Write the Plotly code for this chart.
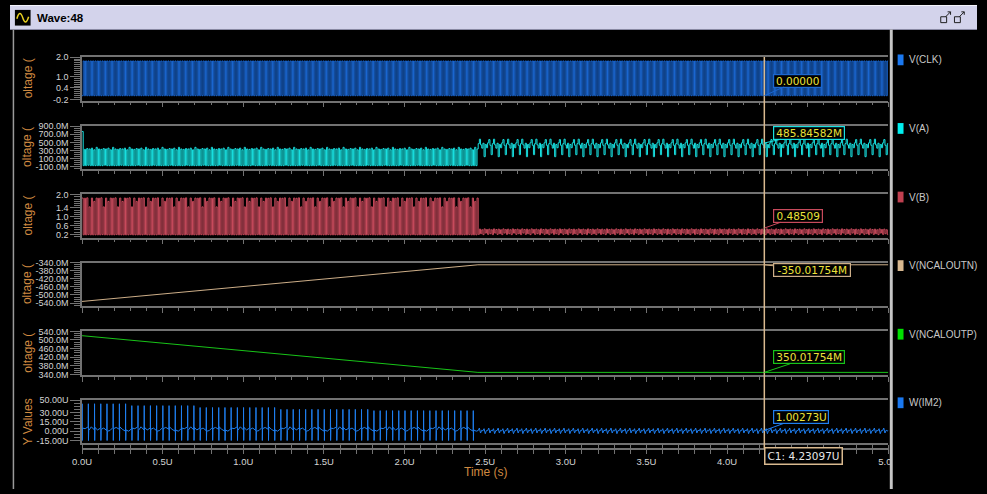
import numpy as np
import plotly.graph_objects as go

W, H = 987, 494

# ---------------- timing (microseconds) ----------------
T_END = 5.0
T_CAL_DONE = 2.455          # end of the calibration phase
CURSOR_T = 4.23097
CLK_HALF = 0.00729          # half clock period
IM2_SPIKE_PERIOD = 0.0385

# ---------------- V(CLK) ----------------
CLK_LEVELS = [0.0, 1.8]

# ---------------- V(A) ----------------
A_START = 0.77
A_PRE_LEVELS = [0.34, -0.07, 0.33, -0.07, 0.35, -0.06, 0.34, -0.07,
                0.36, -0.07, 0.32, -0.07, 0.38, -0.07]
A_POST_LEVELS = [0.47, 0.58, 0.44, 0.36, 0.48, 0.15, 0.45, 0.37,
                 0.49, 0.57, 0.43, 0.20]

# ---------------- V(B) ----------------
B_PRE_LEVELS = [1.85, 0.18, 1.84, 0.18, 1.86, 0.19, 1.45, 0.18,
                1.85, 0.18, 1.70, 0.18]
B_POST_LEVELS = [0.20, 0.44, 0.23, 0.41, 0.19, 0.45, 0.26, 0.42]

# ---------------- V(NCALOUTN) / V(NCALOUTP) ----------------
NCAL_T = [0.0, T_CAL_DONE, T_END]
NCALOUTN = [-0.532, -0.350, -0.350]
NCALOUTP = [0.520, 0.350, 0.350]

# ---------------- W(IM2) in uA ----------------
IM2_SEG_START = [0.0, 0.3, 0.7, 1.2, 1.8]
IM2_SEG_PEAK = [44.0, 41.0, 38.0, 35.0, 33.0]
IM2_TROUGH = -15.0
IM2_PRE_BASE = [4.0, 7.0, 2.0, 5.0, 1.0, 6.0, 3.0, 0.0]
IM2_POST_LEVELS = [1.0, 5.0, -3.0, 1.5, 0.5, 4.0, -4.0, 1.0]

# ---------------- cursor readout ----------------
CURSOR_VALUES = [0.0, 0.48584582, 0.48509, -0.35001754, 0.35001754, 1.00273]
CURSOR_TEXT = ["0.00000", "485.84582M", "0.48509", "-350.01754M",
               "350.01754M", "1.00273U"]

# ---------------- axis labels ----------------
NAMES = ["V(CLK)", "V(A)", "V(B)", "V(NCALOUTN)", "V(NCALOUTP)", "W(IM2)"]
Y_TITLES = ["oltage (", "oltage (", "oltage (", "oltage (", "oltage (", "Y Values"]
Y_TICKVALS = [
    [2.0, 1.0, 0.4, -0.2],
    [0.9, 0.7, 0.5, 0.3, 0.1, -0.1],
    [2.0, 1.4, 1.0, 0.6, 0.2],
    [-0.34, -0.38, -0.42, -0.46, -0.50, -0.54],
    [0.54, 0.50, 0.46, 0.42, 0.38, 0.34],
    [50, 30, 15, 0, -15],
]
Y_TICKTEXT = [
    ["2.0", "1.0", "0.4", "-0.2"],
    ["900.0M", "700.0M", "500.0M", "300.0M", "100.0M", "-100.0M"],
    ["2.0", "1.4", "1.0", "0.6", "0.2"],
    ["-340.0M", "-380.0M", "-420.0M", "-460.0M", "-500.0M", "-540.0M"],
    ["540.0M", "500.0M", "460.0M", "420.0M", "380.0M", "340.0M"],
    ["50.00U", "30.00U", "15.00U", "0.00U", "-15.00U"],
]
X_TICKVALS = [0, 0.5, 1.0, 1.5, 2.0, 2.5, 3.0, 3.5, 4.0, 4.5, 5.0]
X_TICKTEXT = ["0.0U", "0.5U", "1.0U", "1.5U", "2.0U", "2.5U", "3.0U",
              "3.5U", "4.0U", "4.5U", "5.0U"]

# ---------------- styling ----------------
TRACE_COLORS = ["#1a66d0", "#18e0e0", "#c84a5c", "#cdae88", "#18c418", "#1f7ff0"]
SWATCH_COLORS = ["#1a78f0", "#00f0f0", "#c04050", "#d8b890", "#00e000", "#1a78f0"]
Y_RANGES = [[-0.25, 2.01], [-0.155, 0.916], [0.05, 2.03],
            [-0.556, -0.3395], [0.3385, 0.5405], [-19.7, 50.3]]
Y_MINOR = [0.1, 0.05, 0.1, 0.01, 0.01, 5.0]
PANEL_TOP = [53, 123, 193, 263, 333, 403]
PANEL_H = 44.5
X_LEFT, X_RIGHT = 73.5, 896.5
AXIS_GRAY = "#727272"
TICK_FONT = dict(family="Liberation Sans", size=9, color="#d4d4d4")
TITLE_ORANGE = "#d08a40"
CURSOR_TAN = "#d9b98f"
VALUE_YELLOW = "#ece23a"


def px(x):
    return x / W


def py(y):
    return 1 - y / H


# ---------------- waveforms ----------------
edges = np.arange(0.0, T_END, CLK_HALF)
k = np.arange(len(edges))
pre = edges < T_CAL_DONE
k_post = k - pre.sum()

clk_y = np.array(CLK_LEVELS)[k % len(CLK_LEVELS)]

a_y = np.where(pre,
               np.array(A_PRE_LEVELS)[k % len(A_PRE_LEVELS)],
               np.array(A_POST_LEVELS)[k_post % len(A_POST_LEVELS)])
a_y[0] = A_START

b_y = np.where(pre,
               np.array(B_PRE_LEVELS)[k % len(B_PRE_LEVELS)],
               np.array(B_POST_LEVELS)[k_post % len(B_POST_LEVELS)])


def hold_end(x, y):
    return np.append(x, T_END), np.append(y, y[-1])


clk_x, clk_y = hold_end(edges, clk_y)
a_x, a_y = hold_end(edges, a_y)
b_x, b_y = hold_end(edges, b_y)

# IM2: current spikes at every comparator strobe during calibration
im_x, im_y = [], []
spike_t = np.arange(0.0, T_CAL_DONE, IM2_SPIKE_PERIOD)
for n, t in enumerate(spike_t):
    t = float(t)
    seg = int(np.searchsorted(IM2_SEG_START, t, side="right")) - 1
    base = IM2_PRE_BASE[n % len(IM2_PRE_BASE)]
    base2 = IM2_PRE_BASE[(n + 3) % len(IM2_PRE_BASE)]
    im_x += [t, t + 0.0008, t + 0.0016, t + 0.003, t + IM2_SPIKE_PERIOD * 0.5]
    im_y += [base, IM2_SEG_PEAK[seg], IM2_TROUGH, base2, base]
post_edges = edges[~pre]
for n, t in enumerate(post_edges):
    im_x.append(float(t))
    im_y.append(IM2_POST_LEVELS[n % len(IM2_POST_LEVELS)])
im_x.append(T_END)
im_y.append(IM2_POST_LEVELS[0])

series = [
    (clk_x, clk_y, "hv"),
    (a_x, a_y, "hv"),
    (b_x, b_y, "hv"),
    (np.array(NCAL_T), np.array(NCALOUTN), "linear"),
    (np.array(NCAL_T), np.array(NCALOUTP), "linear"),
    (np.array(im_x), np.array(im_y), "linear"),
]

fig = go.Figure()
for i, (xs, ys, shape) in enumerate(series):
    fig.add_trace(go.Scatter(
        x=xs, y=ys, mode="lines", name=NAMES[i],
        line=dict(color=TRACE_COLORS[i], width=1, shape=shape),
        xaxis=f"x{i + 1}", yaxis=f"y{i + 1}", showlegend=False,
        hoverinfo="skip"))

# carrier for the shared time axis
fig.add_trace(go.Scatter(x=[None], y=[None], xaxis="x7", yaxis="y6",
                         showlegend=False, hoverinfo="skip"))

layout = dict(
    width=W, height=H, margin=dict(l=0, r=0, t=0, b=0),
    paper_bgcolor="black", plot_bgcolor="rgba(0,0,0,0)", showlegend=False,
)

for i in range(6):
    top = PANEL_TOP[i]
    bot = top + PANEL_H
    layout[f"xaxis{i + 1}"] = dict(
        domain=[px(X_LEFT), px(X_RIGHT)], range=[0, T_END],
        anchor=f"y{i + 1}", showline=True, mirror=True,
        linecolor=AXIS_GRAY, linewidth=1.5,
        ticks="outside", ticklen=5, tickcolor=AXIS_GRAY, tickwidth=1,
        tickmode="linear", tick0=0, dtick=0.5,
        minor=dict(ticks="outside", ticklen=3, tickcolor=AXIS_GRAY,
                   tickmode="linear", tick0=0, dtick=0.1, showgrid=False),
        showticklabels=False, showgrid=False, zeroline=False,
    )
    layout[f"yaxis{i + 1}"] = dict(
        domain=[py(bot), py(top)], range=Y_RANGES[i],
        anchor=f"x{i + 1}", showline=True, linecolor=AXIS_GRAY, linewidth=1.5,
        ticks="outside", ticklen=10, tickcolor=AXIS_GRAY, tickwidth=1,
        tickmode="array", tickvals=Y_TICKVALS[i], ticktext=Y_TICKTEXT[i],
        tickfont=TICK_FONT,
        minor=dict(ticks="outside", ticklen=6, tickcolor=AXIS_GRAY,
                   tickmode="linear", tick0=0, dtick=Y_MINOR[i],
                   showgrid=False),
        showgrid=False, zeroline=False,
    )

layout["xaxis7"] = dict(
    domain=[px(X_LEFT), px(X_RIGHT)], range=[0, T_END],
    anchor="free", position=py(453), showline=True,
    linecolor=AXIS_GRAY, linewidth=1.5,
    ticks="outside", ticklen=4, tickcolor=AXIS_GRAY,
    tickmode="array", tickvals=X_TICKVALS, ticktext=X_TICKTEXT,
    tickfont=dict(family="Liberation Sans", size=9.5, color="#d4d4d4"),
    minor=dict(ticks="outside", ticklen=4, tickcolor=AXIS_GRAY,
               tickmode="linear", tick0=0, dtick=0.1, showgrid=False),
    showgrid=False, zeroline=False,
)

fig.update_layout(**layout)

shapes = []
annotations = []


def paper_rect(x0, y0, x1, y1, fill, line=None, lw=0):
    shapes.append(dict(type="rect", xref="paper", yref="paper",
                       x0=px(x0), x1=px(x1), y0=py(y1), y1=py(y0),
                       fillcolor=fill, line=dict(color=line or fill, width=lw),
                       layer="above"))


def paper_line(x0, y0, x1, y1, color, width=1):
    shapes.append(dict(type="line", xref="paper", yref="paper",
                       x0=px(x0), x1=px(x1), y0=py(y0), y1=py(y1),
                       line=dict(color=color, width=width), layer="above"))


# window chrome
paper_rect(0, 0, W, 25, "#d3d3eb")
paper_line(0, 0.5, W, 0.5, "#f4f4fc", 1)
paper_line(0, 25, W, 25, "#8a8aa4", 1)
paper_rect(5, 5, 21, 21, "#000000")
shapes.append(dict(type="path", xref="paper", yref="paper",
                   path=(f"M {px(7)} {py(14)} Q {px(10)} {py(4)} {px(13)} {py(13)} "
                         f"T {px(19)} {py(12)}"),
                   line=dict(color="#e8d020", width=1.5), layer="above"))
annotations.append(dict(xref="paper", yref="paper", x=px(26), y=py(13),
                        xanchor="left", yanchor="middle", showarrow=False,
                        text="<b>Wave:48</b>",
                        font=dict(family="Liberation Sans", size=11.5,
                                  color="#000000")))
for bx in (950, 964):
    paper_rect(bx, 12, bx + 6, 18, "rgba(0,0,0,0)", "#202020", 1)
    paper_line(bx + 7, 7, bx + 10, 7, "#202020", 1)
    paper_line(bx + 10, 7, bx + 10, 10, "#202020", 1)
    paper_line(bx + 10, 7, bx + 5, 12, "#202020", 1)

paper_line(3.5, 25, 3.5, H, "#9a9a9a", 1.5)
# clip the last time label at the divider
paper_rect(899, 456, 912, 476, "#000000")
paper_rect(898, 25, 901, H, "#c6c6c6")

# legend swatches and names
for i in range(6):
    cy = PANEL_TOP[i] + 3
    paper_rect(906, cy - 5.5, 912, cy + 5.5, SWATCH_COLORS[i])
    annotations.append(dict(xref="paper", yref="paper", x=px(916), y=py(cy),
                            xanchor="left", yanchor="middle", showarrow=False,
                            text=NAMES[i],
                            font=dict(family="Liberation Sans", size=10,
                                      color="#c8c8c8")))

# axis titles
for i in range(6):
    cy = PANEL_TOP[i] + PANEL_H / 2
    annotations.append(dict(xref="paper", yref="paper", x=px(18), y=py(cy),
                            xanchor="center", yanchor="middle", showarrow=False,
                            textangle=-90, text=Y_TITLES[i],
                            font=dict(family="Liberation Sans", size=12,
                                      color=TITLE_ORANGE)))
annotations.append(dict(xref="paper", yref="paper", x=px(486), y=py(477),
                        xanchor="center", yanchor="middle", showarrow=False,
                        text="Time (s)",
                        font=dict(family="Liberation Sans", size=12,
                                  color=TITLE_ORANGE)))

# cursor
shapes.append(dict(type="line", xref="x", yref="paper", x0=CURSOR_T,
                   x1=CURSOR_T, y0=py(453), y1=py(53),
                   line=dict(color=CURSOR_TAN, width=1.5), layer="above"))
annotations.append(dict(xref="x", yref="paper", x=CURSOR_T, y=py(460.5),
                        xanchor="left", yanchor="middle", showarrow=False,
                        text=f"C1: {CURSOR_T:.5f}U", bgcolor="#000000",
                        bordercolor=CURSOR_TAN, borderwidth=1.5, borderpad=1,
                        width=74, height=13,
                        font=dict(family="DejaVu Sans", size=10.5,
                                  color="#e6e6e6")))

# cursor readouts
BOXES = [(803.5, 77.5, 47), (815, 130.7, 70), (804, 215.5, 48),
         (818, 270.3, 76), (815, 360, 70), (807, 420.7, 54)]
x_cur_px = X_LEFT + CURSOR_T / T_END * (X_RIGHT - X_LEFT)
for i in range(6):
    lo, hi = Y_RANGES[i]
    top = PANEL_TOP[i]
    y_pt = top + (hi - CURSOR_VALUES[i]) / (hi - lo) * PANEL_H
    bx, by, bw = BOXES[i]
    annotations.append(dict(
        xref=f"x{i + 1}", yref=f"y{i + 1}", x=CURSOR_T, y=CURSOR_VALUES[i],
        text=CURSOR_TEXT[i], showarrow=True, arrowhead=0, arrowwidth=1,
        arrowcolor=TRACE_COLORS[i], ax=bx - x_cur_px, ay=by - y_pt,
        bgcolor="#000000", bordercolor=TRACE_COLORS[i], borderwidth=1.2,
        borderpad=0, width=bw, height=12,
        font=dict(family="DejaVu Sans", size=10.5, color=VALUE_YELLOW)))

fig.update_layout(shapes=shapes, annotations=annotations)
fig.write_html("out.html")
